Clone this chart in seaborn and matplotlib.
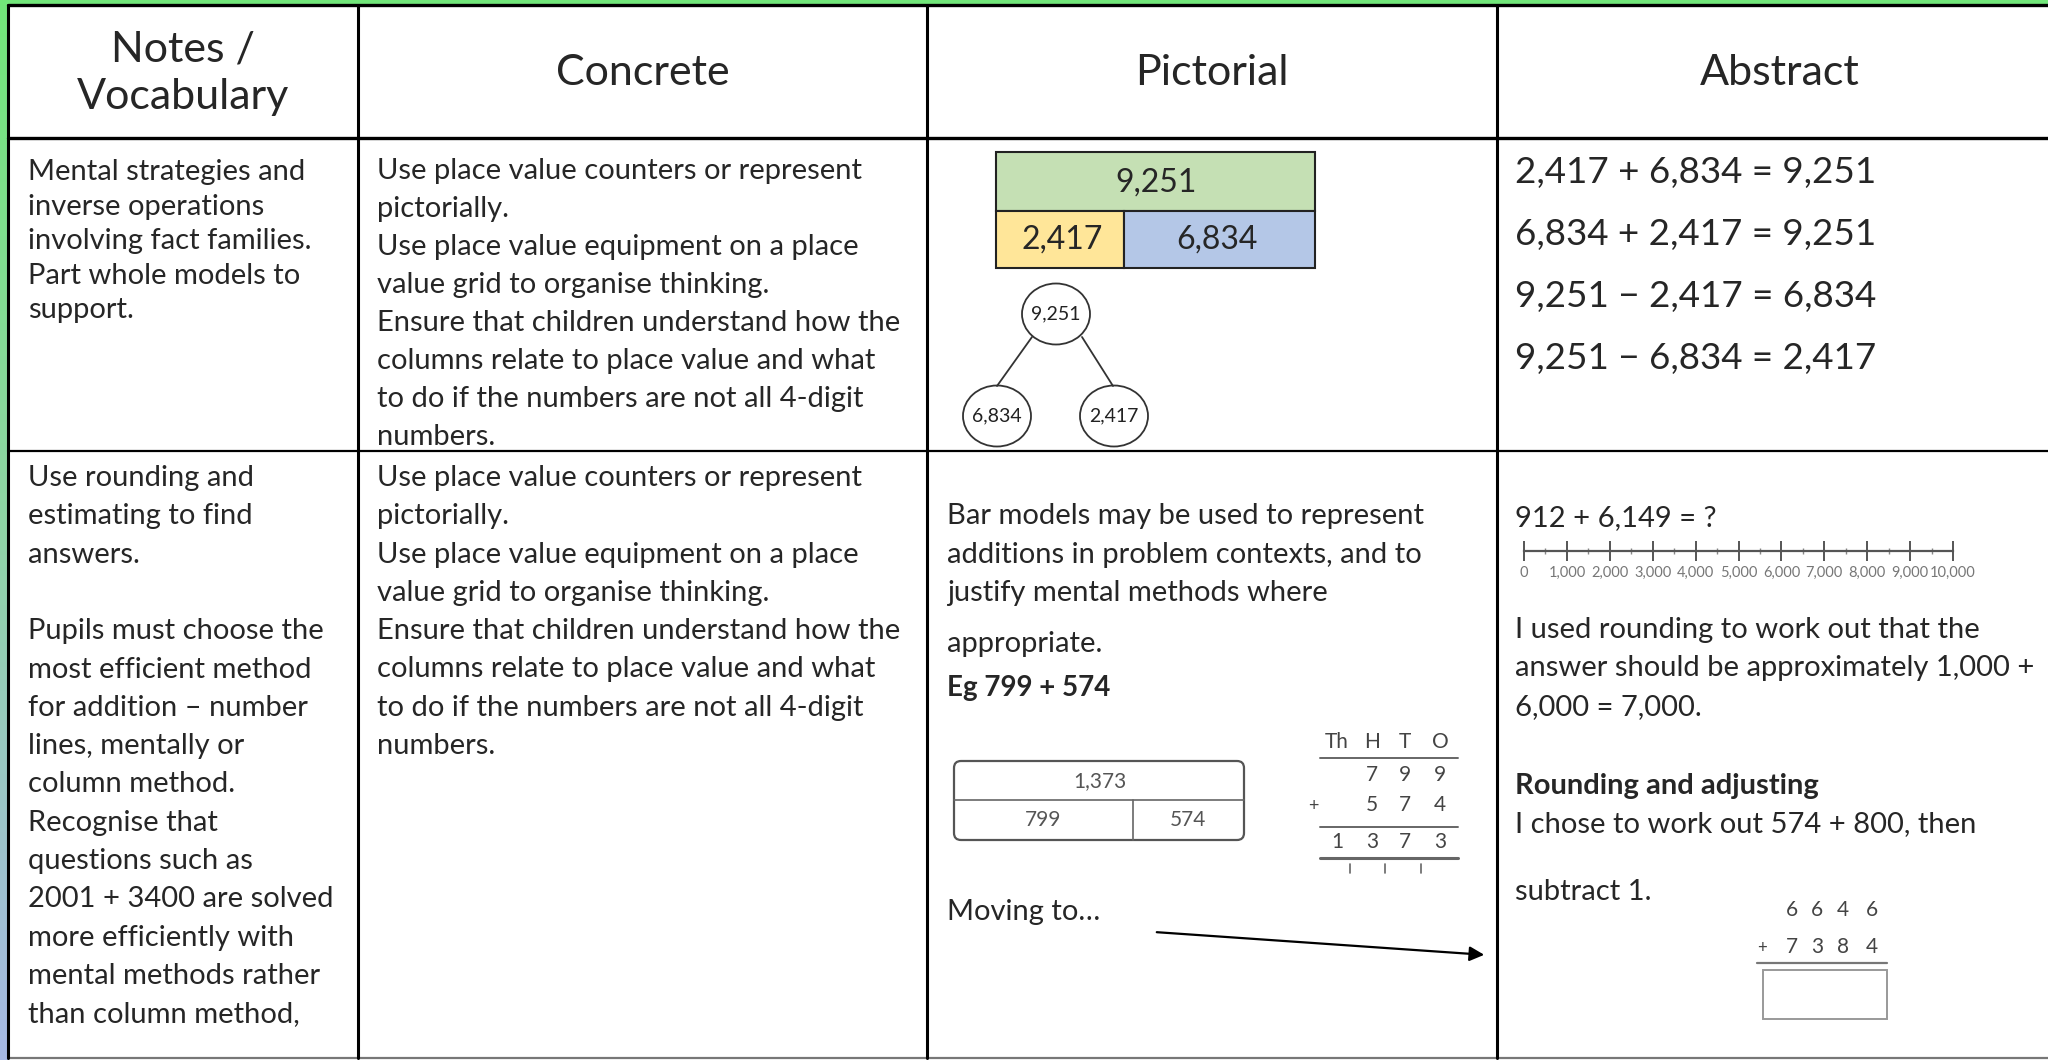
import numpy as np
import matplotlib
matplotlib.use("Agg")
import matplotlib.pyplot as plt
import seaborn as sns
from matplotlib.patches import Rectangle, Ellipse, FancyBboxPatch
from matplotlib.colors import LinearSegmentedColormap

# ---- content ----
header_labels = ["Notes /\nVocabulary", "Concrete", "Pictorial", "Abstract"]

notes_row1 = ["Mental strategies and", "inverse operations", "involving fact families.",
              "Part whole models to", "support."]
notes_row2 = ["Use rounding and", "estimating to find", "answers.", "",
              "Pupils must choose the", "most efficient method", "for addition \u2013 number",
              "lines, mentally or", "column method.", "Recognise that", "questions such as",
              "2001 + 3400 are solved", "more efficiently with", "mental methods rather",
              "than column method,"]
concrete_lines = ["Use place value counters or represent", "pictorially.",
                  "Use place value equipment on a place", "value grid to organise thinking.",
                  "Ensure that children understand how the", "columns relate to place value and what",
                  "to do if the numbers are not all 4-digit", "numbers."]
pictorial_lines = ["Bar models may be used to represent", "additions in problem contexts, and to",
                   "justify mental methods where"]
pictorial_tail = "appropriate."
pictorial_example = "Eg 799 + 574"
moving_text = "Moving to\u2026"

whole, part_a, part_b = 9251, 2417, 6834
bar_total, bar_left, bar_right = 1373, 799, 574
place_heads = ["Th", "H", "T", "O"]
col_top = ["", "7", "9", "9"]
col_bottom = ["", "5", "7", "4"]
col_result = ["1", "3", "7", "3"]

abstract_eqs = ["2,417 + 6,834 = 9,251", "6,834 + 2,417 = 9,251",
                "9,251 \u2212 2,417 = 6,834", "9,251 \u2212 6,834 = 2,417"]
question = "912 + 6,149 = ?"
number_line_ticks = [0, 1000, 2000, 3000, 4000, 5000, 6000, 7000, 8000, 9000, 10000]
number_line_minor = [500, 1500, 2500, 3500, 4500, 5500, 6500, 7500, 8500, 9500]
abstract_lines = ["I used rounding to work out that the",
                  "answer should be approximately 1,000 +", "6,000 = 7,000."]
adjust_title = "Rounding and adjusting"
adjust_lines = ["I chose to work out 574 + 800, then"]
adjust_tail = "subtract 1."
add_top = ["6", "6", "4", "6"]
add_bottom = ["7", "3", "8", "4"]

W, H = 2048, 1060
sns.set_theme(style="white")
plt.rcParams['font.family'] = ['Lato', 'DejaVu Sans']
FS = 21

fig = plt.figure(figsize=(W / 100, H / 100), dpi=100)
ax = fig.add_axes([0, 0, 1, 1])
ax.axis('off')

# background frame: green top band, green->blue left strip
grad = LinearSegmentedColormap.from_list("edge", ["#72e67a", "#8fd4a6", "#a6b8e4"])
ax.imshow(np.linspace(0, 1, 256).reshape(-1, 1), cmap=grad, extent=(0, 8, H, 0),
          aspect='auto', zorder=0)
ax.add_patch(Rectangle((0, 0), W, 4, color="#72e67a", zorder=0))
ax.set_xlim(0, W)
ax.set_ylim(H, 0)

# table grid
col_x = [8, 358, 927, 1497, 2063]
ax.plot([8, W], [5, 5], color='black', lw=2.4)
ax.plot([8, W], [138, 138], color='black', lw=2.4)
ax.plot([8, W], [451, 451], color='black', lw=1.6)
ax.plot([8, W], [1058, 1058], color='#777777', lw=1.6)
for x in col_x[:4]:
    ax.plot([x, x], [5, 1058], color='black', lw=2.2)

# headers
for i, lab in enumerate(header_labels):
    cx = (col_x[i] + col_x[i + 1]) / 2
    ax.text(cx, 73, lab, fontsize=31, ha='center', va='center', linespacing=1.3)


def put_lines(x, y0, dy, lines, size=FS, weight='normal'):
    for i, s in enumerate(lines):
        if s:
            ax.text(x, y0 + i * dy, s, fontsize=size, ha='left', va='center',
                    fontweight=weight)


put_lines(28, 172, 34.5, notes_row1)
put_lines(28, 478, 38.3, notes_row2)
put_lines(377, 171, 38.0, concrete_lines)
put_lines(377, 478, 38.3, concrete_lines)

# pictorial row 1: bar model
ax.add_patch(Rectangle((996, 152), 319, 59, facecolor="#c5e0b4", edgecolor='#222222', lw=1.5))
ax.add_patch(Rectangle((996, 211), 128, 57, facecolor="#ffe699", edgecolor='#222222', lw=1.5))
ax.add_patch(Rectangle((1124, 211), 191, 57, facecolor="#b4c7e7", edgecolor='#222222', lw=1.5))
ax.text(1156, 183, f"{whole:,}", fontsize=23, ha='center', va='center')
ax.text(1062, 240, f"{part_a:,}", fontsize=23, ha='center', va='center')
ax.text(1217, 240, f"{part_b:,}", fontsize=23, ha='center', va='center')

# part-whole model
ax.plot([1032, 997], [337, 386], color='#333333', lw=1.3)
ax.plot([1082, 1113], [337, 386], color='#333333', lw=1.3)
for (cx, cy), v in zip([(1056, 314), (997, 416), (1114, 416)], [whole, part_b, part_a]):
    ax.add_patch(Ellipse((cx, cy), 68, 61, facecolor='white', edgecolor='#333333', lw=1.3))
    ax.text(cx, cy, f"{v:,}", fontsize=14, ha='center', va='center', color='#222222')

# pictorial row 2
put_lines(947, 516, 38.5, pictorial_lines)
ax.text(947, 644, pictorial_tail, fontsize=FS, ha='left', va='center')
ax.text(947, 688, pictorial_example, fontsize=FS - 1, ha='left', va='center', fontweight='bold')

ax.add_patch(FancyBboxPatch((954, 761), 290, 79, boxstyle="round,pad=0,rounding_size=7",
                            facecolor='white', edgecolor='#555555', lw=1.6))
ax.plot([954, 1244], [800, 800], color='#666666', lw=1.2)
ax.plot([1133, 1133], [800, 840], color='#666666', lw=1.2)
ax.text(1100, 781, f"{bar_total:,}", fontsize=15, ha='center', va='center', color='#555555')
ax.text(1043, 820, f"{bar_left}", fontsize=15, ha='center', va='center', color='#555555')
ax.text(1188, 820, f"{bar_right}", fontsize=15, ha='center', va='center', color='#555555')

cols = [1337, 1372, 1405, 1440]
for x, h, t, b, r in zip(cols, place_heads, col_top, col_bottom, col_result):
    ax.text(x, 742, h, fontsize=15, ha='center', va='center', color='#444444')
    ax.text(x, 775, t, fontsize=15, ha='center', va='center', color='#444444')
    ax.text(x, 805, b, fontsize=15, ha='center', va='center', color='#444444')
    ax.text(x, 842, r, fontsize=15, ha='center', va='center', color='#444444')
ax.text(1313, 806, "+", fontsize=13, ha='center', va='center', color='#444444')
ax.plot([1320, 1458], [758, 758], color='#666666', lw=1.4)
ax.plot([1320, 1458], [827, 827], color='#666666', lw=1.4)
ax.plot([1320, 1458], [858, 858], color='#666666', lw=2.2)
for x in [1350, 1385, 1421]:
    ax.plot([x, x], [864, 873], color='#666666', lw=1.2)

ax.text(947, 912, moving_text, fontsize=FS, ha='left', va='center')
ax.annotate('', xy=(1487, 955), xytext=(1154, 932),
            arrowprops=dict(arrowstyle='-|>', color='black', lw=1.6, mutation_scale=22))

# abstract row 1
put_lines(1515, 173, 62, abstract_eqs, size=26.5)

# abstract row 2
ax.text(1515, 518, question, fontsize=FS, ha='left', va='center')
nl = fig.add_axes([1524 / W, 1 - 551 / H, (1953 - 1524) / W, 0.01])
nl.patch.set_alpha(0)
nl.set_xlim(0, 10000)
nl.set_ylim(0, 1)
sns.despine(ax=nl, left=True, top=True, right=True)
nl.spines['bottom'].set_color('#555555')
nl.spines['bottom'].set_linewidth(1.6)
nl.set_yticks([])
nl.set_xticks(number_line_ticks)
nl.set_xticklabels([f"{t:,}" for t in number_line_ticks], fontsize=10.5, color='#777777')
nl.set_xticks(number_line_minor, minor=True)
nl.tick_params(axis='x', which='major', direction='inout', length=14, width=1.4,
               color='#555555', pad=4, bottom=True)
nl.tick_params(axis='x', which='minor', direction='inout', length=5, width=1.0,
               color='#888888', bottom=True)

put_lines(1515, 630, 38.3, abstract_lines)
ax.text(1515, 786, adjust_title, fontsize=FS, ha='left', va='center', fontweight='bold')
put_lines(1515, 824, 38.3, adjust_lines)
ax.text(1515, 892, adjust_tail, fontsize=FS, ha='left', va='center')

dx = [1792, 1817, 1843, 1872]
for x, t, b in zip(dx, add_top, add_bottom):
    ax.text(x, 910, t, fontsize=15, ha='center', va='center', color='#444444')
    ax.text(x, 947, b, fontsize=15, ha='center', va='center', color='#444444')
ax.text(1762, 948, "+", fontsize=12, ha='center', va='center', color='#444444')
ax.plot([1757, 1887], [963, 963], color='#777777', lw=1.6)
ax.add_patch(Rectangle((1763, 970), 124, 49, facecolor='white', edgecolor='#999999', lw=1.4))

fig.savefig("out.png", dpi=100)
